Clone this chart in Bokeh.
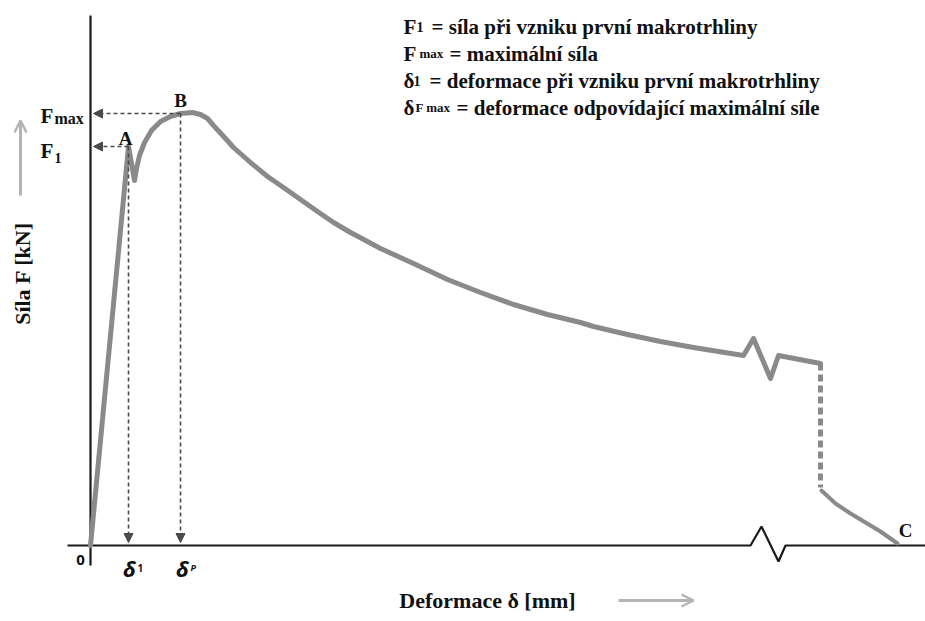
import math
from bokeh.plotting import figure
from bokeh.models import Range1d, Arrow, NormalHead, OpenHead
from bokeh.core.properties import value
from bokeh.embed import file_html
from bokeh.resources import INLINE

# ---- data (schematic units: deformation delta, force F) ----
curve_delta = [0, 38, 44, 46, 49, 54, 61, 70, 80, 90, 102, 110, 117, 123, 135, 143, 160, 177, 193,
               210, 227, 243, 260, 277, 290, 323, 357, 390, 423, 457, 490, 503, 537, 570, 603, 653,
               663, 680, 688, 730]
curve_force = [0, 399, 365, 377, 390, 403, 415, 424, 429, 432, 433, 431, 427, 420, 407, 398, 383, 369, 358,
               346, 334, 323, 313, 304, 297, 282, 266, 253, 241, 231, 223, 219, 211, 204, 198, 190,
               207, 167, 190, 182]
drop_delta = [730, 730]
drop_force = [182, 58]
tail_delta = [731, 745, 760, 775, 790, 807]
tail_force = [55, 42, 32, 23, 14, 2]
axis_x_delta = [-23, 660, 671, 688, 695, 835]
axis_x_force = [0, 0, 19, -16, 0, 0]
point_A = (38, 399)   # F1, delta1
point_B = (90, 432)   # Fmax, deltaP
legend_lines = [
    ("F", "1", "= síla při vzniku první makrotrhliny"),
    ("F", "max", "= maximální síla"),
    ("δ", "1", "= deformace při vzniku první makrotrhliny"),
    ("δ", "F max", "= deformace odpovídající maximální síle"),
]

W, H = 925, 621
OX, OY = 90, 545  # pixel position of origin


def P(px, py):
    return px - OX, OY - py


p = figure(width=W, height=H, output_backend="svg", toolbar_location=None,
           x_range=Range1d(-OX, W - OX), y_range=Range1d(OY - H, OY),
           min_border=0, min_border_left=0, min_border_right=0, min_border_top=0, min_border_bottom=0)
p.axis.visible = False
p.grid.visible = False
p.outline_line_color = None
p.background_fill_color = "white"
p.border_fill_color = "white"

SERIF = value("'Liberation Serif', 'Times New Roman', serif")
DK = "#4a4a4a"
CURVE = "#8a8a8a"

# axes
p.line([0, 0], [OY - 15, OY - 565], line_color="#1a1a1a", line_width=2.2)
p.line(axis_x_delta, axis_x_force, line_color="#1a1a1a", line_width=2.2)

# dashed helper arrows
def dash_arrow(x0, y0, x1, y1):
    p.add_layout(Arrow(x_start=x0, y_start=y0, x_end=x1, y_end=y1,
                       line_color=DK, line_width=1.6, line_dash="4 3",
                       end=NormalHead(size=9, fill_color=DK, line_color=DK)))

dash_arrow(point_A[0], point_A[1], 3, point_A[1])
dash_arrow(point_B[0], point_B[1], 3, point_B[1])
dash_arrow(point_A[0], point_A[1], point_A[0], 3)
dash_arrow(point_B[0], point_B[1], point_B[0], 3)

# curve
p.line(curve_delta, curve_force, line_color=CURVE, line_width=5, line_join="round", line_cap="round")
p.line(drop_delta, drop_force, line_color=CURVE, line_width=5, line_dash="7 4")
p.line(tail_delta, tail_force, line_color=CURVE, line_width=4, line_cap="round")

# direction arrows (light gray)
for (x0, y0, x1, y1) in [(20, 195, 20, 120), (618, 600, 693, 600)]:
    a0 = P(x0, y0); a1 = P(x1, y1)
    p.add_layout(Arrow(x_start=a0[0], y_start=a0[1], x_end=a1[0], y_end=a1[1],
                       line_color="#b4b4b4", line_width=3,
                       end=OpenHead(size=12, line_color="#b4b4b4", line_width=2.5)))


def txt(px, py, s, size, font=SERIF, style="bold", align="left", baseline="alphabetic", angle=0, color="#111111"):
    x, y = P(px, py)
    p.text(x=[x], y=[y], text=[s], text_font=font, text_font_size=f"{size}px",
           text_font_style=style, text_align=align, text_baseline=baseline, angle=angle,
           text_color=color)

# legend block
bases = [26, 53, 80, 107]
first_x = [403, 403, 403, 403]
sub_x = [416, 419, 413, 415]
rest_x = [431, 449, 429, 456]
sub_size = [14, 13, 14, 13]
for (a, b, c), by, fx, sx, rx, ss in zip(legend_lines, bases, first_x, sub_x, rest_x, sub_size):
    txt(fx, by, a, 21)
    txt(sx, by, b, ss)
    txt(rx, by, c, 21)

# axis labels
txt(22, 273, "Síla F [kN]", 22, align="center", baseline="middle", angle=math.pi / 2)
txt(487, 600, "Deformace δ [mm]", 22, align="center", baseline="middle")

# point labels
txt(40, 115, "F", 21)
txt(54, 118, "max", 16)
txt(40, 150, "F", 21)
txt(54, 157, "1", 14)
txt(125, 138, "A", 19, align="center")
txt(180, 100, "B", 19, align="center")
txt(905, 530, "C", 19, align="center")

SANS = value("Open Sans")
txt(80, 559, "0", 15, font=SANS, align="center", baseline="middle")
txt(129, 567, "δ", 22, font=SANS, style="bold italic", align="center")
txt(137, 567, "1", 10, font=SANS, style="bold")
txt(182, 567, "δ", 22, font=SANS, style="bold italic", align="center")
txt(190, 567, "P", 9, font=SANS, style="bold italic")

open("out.html", "w").write(file_html(p, INLINE))
